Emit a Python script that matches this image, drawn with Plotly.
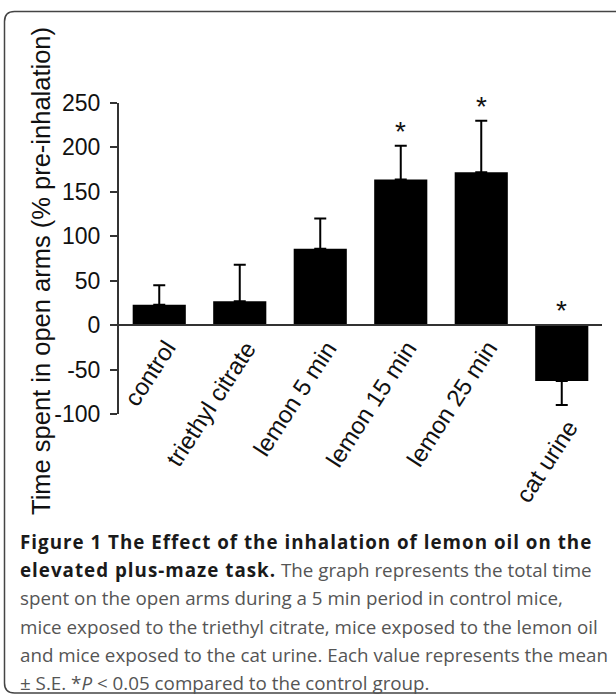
import plotly.graph_objects as go

# ---- data ----
categories = ["control", "triethyl citrate", "lemon 5 min", "lemon 15 min", "lemon 25 min", "cat urine"]
means = [23, 27, 86, 164, 172, -63]
sems = [22, 41, 34, 38, 58, 27]
significance = ["", "", "", "*", "*", "*"]
y_ticks = [-100, -50, 0, 50, 100, 150, 200, 250]
y_tick_labels = ["-100", "-50", "0", "50", "100", "150", "200", "250"]
y_title = "Time spent in open arms (% pre-inhalation)"
caption_lines = [
    "<b>Figure 1 The Effect of the inhalation of lemon oil on the</b>",
    "<b>elevated plus-maze task.</b> The graph represents the total time",
    "spent on the open arms during a 5 min period in control mice,",
    "mice exposed to the triethyl citrate, mice exposed to the lemon oil",
    "and mice exposed to the cat urine. Each value represents the mean",
    "± S.E. *<i>P</i> &lt; 0.05 compared to the control group.",
]

W, H = 616, 696
L, R, T, B = 119, 14, 103, 282
PW, PH = W - L - R, H - T - B
AXFONT = "Liberation Sans, Arial"


def px(x):
    return (x - L) / PW


def py(y):
    return (H - B - y) / PH


err_up = [s if m >= 0 else 0 for m, s in zip(means, sems)]
err_dn = [s if m < 0 else 0 for m, s in zip(means, sems)]
star_y = [m + s if m >= 0 else 0 for m, s in zip(means, sems)]
label_y = [0 if m >= 0 else m - s for m, s in zip(means, sems)]

fig = go.Figure()
fig.add_trace(go.Bar(
    x=categories, y=means, width=0.66,
    marker=dict(color="black", line=dict(width=0)),
    error_y=dict(type="data", symmetric=False, array=err_up, arrayminus=err_dn,
                 color="black", thickness=2, width=6),
    showlegend=False,
))

annotations = []
for c, yv, s in zip(categories, star_y, significance):
    if s:
        annotations.append(dict(x=c, y=yv, xref="x", yref="y", text=s, showarrow=False,
                                yanchor="bottom", yshift=-3,
                                font=dict(family=AXFONT, size=28, color="#111")))

# category labels (rotated), placed under the axis line / under the negative bar
for c, yv in zip(categories, label_y):
    annotations.append(dict(x=c, y=yv, xref="x", yref="y", text=c, showarrow=False,
                            textangle=-57, xanchor="right", yanchor="top",
                            xshift=24, yshift=-8,
                            font=dict(family=AXFONT, size=24, color="#111")))

annotations.append(dict(x=px(41), y=py(271), xref="paper", yref="paper", text=y_title,
                        textangle=-90, showarrow=False, xanchor="center", yanchor="middle",
                        font=dict(family=AXFONT, size=25.5, color="#111")))

cap_y = [542, 570, 598, 627, 655, 683]
for line, yy in zip(caption_lines, cap_y):
    line = line.replace("<b>", "<span style=\"color:#1a1a1a;letter-spacing:1px\"><b>").replace("</b>", "</b></span>")
    annotations.append(dict(x=px(18), y=py(yy), xref="paper", yref="paper", text=line,
                            showarrow=False, xanchor="left", yanchor="middle",
                            font=dict(family="Open Sans", size=18.8, color="#555555")))

# rounded border frame
x0, y0, x1, y1, r = 4.5, 11.5, 625, 693, 10
path = (f"M {px(x1)},{py(y0)} L {px(x0 + r)},{py(y0)} Q {px(x0)},{py(y0)} {px(x0)},{py(y0 + r)} "
        f"L {px(x0)},{py(y1 - r)} Q {px(x0)},{py(y1)} {px(x0 + r)},{py(y1)} L {px(x1)},{py(y1)}")

fig.update_layout(
    width=W, height=H,
    margin=dict(l=L, r=R, t=T, b=B),
    plot_bgcolor="white", paper_bgcolor="white",
    annotations=annotations,
    shapes=[dict(type="path", xref="paper", yref="paper", path=path,
                 line=dict(color="#444", width=1.5))],
    xaxis=dict(range=[-0.5, 5.5], anchor="free", position=py(325), showline=True,
               linecolor="#333", linewidth=2, ticks="", showticklabels=False,
               showgrid=False, zeroline=False),
    yaxis=dict(range=[-100, 250], tickvals=y_ticks, ticktext=y_tick_labels,
               ticks="outside", ticklen=7, tickwidth=2, ticklabelstandoff=5,
               tickcolor="#333", showline=True, linecolor="#333", linewidth=2, showgrid=False,
               zeroline=False, tickfont=dict(family=AXFONT, size=23, color="#111")),
    font=dict(family=AXFONT),
)

fig.write_html("out.html", config={"displayModeBar": False},
               post_script="document.body.style.margin='0';document.body.style.overflow='hidden';")
